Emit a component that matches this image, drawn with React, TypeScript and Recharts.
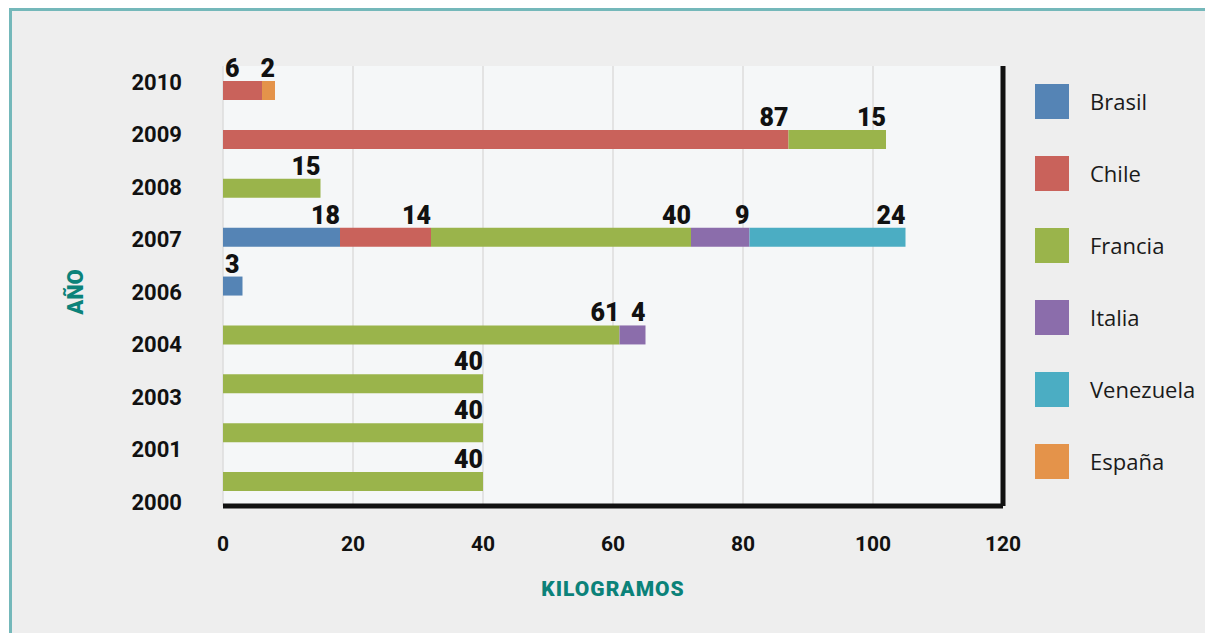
import React from 'react';
import { BarChart, Bar, XAxis, YAxis, CartesianGrid, ReferenceLine, Legend, LabelList } from 'recharts';

const years = ['2010', '2009', '2008', '2007', '2006', '2004', '2003', '2001', '2000'];
const brasil = [0, 0, 0, 18, 3, 0, 0, 0, 0];
const chile = [6, 87, 0, 14, 0, 0, 0, 0, 0];
const francia = [0, 15, 15, 40, 0, 61, 40, 40, 40];
const italia = [0, 0, 0, 9, 0, 4, 0, 0, 0];
const venezuela = [0, 0, 0, 24, 0, 0, 0, 0, 0];
const espana = [2, 0, 0, 0, 0, 0, 0, 0, 0];
const xTicks = [0, 20, 40, 60, 80, 100, 120];

const seriesNames = ['Brasil', 'Chile', 'Francia', 'Italia', 'Venezuela', 'España'];
const seriesValues = [brasil, chile, francia, italia, venezuela, espana];
const seriesColors = ['#5584b5', '#c9625b', '#9ab44b', '#8b6dab', '#4badc3', '#e4934a'];

const data = years.map((year, i) => {
  const row: Record<string, any> = { year };
  seriesNames.forEach((n, s) => {
    row[n] = seriesValues[s][i];
  });
  return row;
});

const TEAL = '#0b8279';

const makeValueLabel = (seriesIndex: number) => (props: any) => {
  const { x, y, width, value, index } = props;
  if (!value) return null;
  // a narrow segment that starts at zero gets its label at its start
  let startsAtZero = true;
  for (let s = 0; s < seriesIndex; s++) {
    if (seriesValues[s][index]) startsAtZero = false;
  }
  const w = Number(width);
  const atStart = startsAtZero && w < 45;
  return (
    <text
      x={atStart ? Number(x) + 2 : Number(x) + w}
      y={Number(y) - 4}
      textAnchor={atStart ? 'start' : 'end'}
      fontFamily="Roboto, sans-serif"
      fontWeight={900}
      fontSize={25}
      fill="#111"
    >
      {value}
    </text>
  );
};

const renderLegend = () => (
  <div style={{ fontFamily: '"Open Sans", sans-serif' }}>
    {seriesNames.map((n, i) => (
      <div key={n} style={{ display: 'flex', alignItems: 'center', height: 72 }}>
        <div style={{ width: 34, height: 35, background: seriesColors[i], flexShrink: 0 }} />
        <span style={{ marginLeft: 21, fontSize: 22, color: '#1a1a1a' }}>{n}</span>
      </div>
    ))}
  </div>
);

const renderYTitle = (props: any) => {
  const vb = props.viewBox || {};
  const cx = 75;
  const cy = vb.y + vb.height / 2 + 6;
  return (
    <text
      x={cx}
      y={cy}
      transform={`rotate(-90, ${cx}, ${cy})`}
      textAnchor="middle"
      dominantBaseline="central"
      fontFamily="Roboto, sans-serif"
      fontWeight={900}
      fontSize={22}
      fill={TEAL}
    >
      AÑO
    </text>
  );
};

export default function App() {
  return (
    <div style={{ position: 'absolute', left: 0, top: 0, width: 1205, height: 633, background: '#ffffff', overflow: 'hidden' }}>
      <div
        style={{
          position: 'absolute',
          left: 9,
          top: 8,
          width: 1210,
          height: 640,
          background: '#eeeeee',
          borderLeft: '3px solid #74b8ba',
          borderTop: '3px solid #74b8ba',
        }}
      />
      <div style={{ position: 'absolute', left: 0, top: 0 }}>
        <BarChart
          width={1205}
          height={633}
          data={data}
          layout="vertical"
          margin={{ top: 66, right: 202, bottom: 87, left: 63 }}
          barCategoryGap={0}
        >
          <CartesianGrid
            yAxisId="bars"
            horizontal={false}
            vertical={true}
            stroke="#dcdcdc"
            fill="#f5f7f8"
            strokeWidth={1.5}
          />
          <XAxis
            type="number"
            domain={[0, 120]}
            ticks={xTicks}
            allowDataOverflow
            height={40}
            tickLine={false}
            tickSize={0}
            tickMargin={30}
            axisLine={{ stroke: '#111', strokeWidth: 5 }}
            tick={{ fontFamily: 'Roboto, sans-serif', fontWeight: 700, fontSize: 21, fill: '#111' }}
            label={{
              value: 'KILOGRAMOS',
              position: 'insideBottom',
              offset: -50,
              style: { fontFamily: 'Roboto, sans-serif', fontWeight: 900, fontSize: 21, fill: TEAL, letterSpacing: 1 },
            }}
          />
          <YAxis yAxisId="bars" type="category" dataKey="year" hide width={0} />
          <YAxis
            yAxisId="labels"
            type="category"
            dataKey="year"
            width={160}
            padding={{ top: -10, bottom: -22 }}
            axisLine={false}
            tickLine={false}
            tickSize={0}
            tickMargin={41}
            interval={0}
            tick={{ fontFamily: 'Roboto, sans-serif', fontWeight: 700, fontSize: 22, fill: '#111' }}
            label={renderYTitle}
          />
          <ReferenceLine yAxisId="bars" x={120} stroke="#111" strokeWidth={5} />
          {seriesNames.map((n, i) => (
            <Bar
              key={n}
              dataKey={n}
              name={n}
              stackId="a"
              yAxisId="bars"
              fill={seriesColors[i]}
              barSize={19}
              isAnimationActive={false}
            >
              <LabelList dataKey={n} content={makeValueLabel(i)} />
            </Bar>
          ))}
          <Legend
            layout="vertical"
            align="center"
            verticalAlign="middle"
            content={renderLegend}
            wrapperStyle={{ position: 'absolute', left: 1035, top: 65, width: 170 }}
          />
        </BarChart>
      </div>
    </div>
  );
}
